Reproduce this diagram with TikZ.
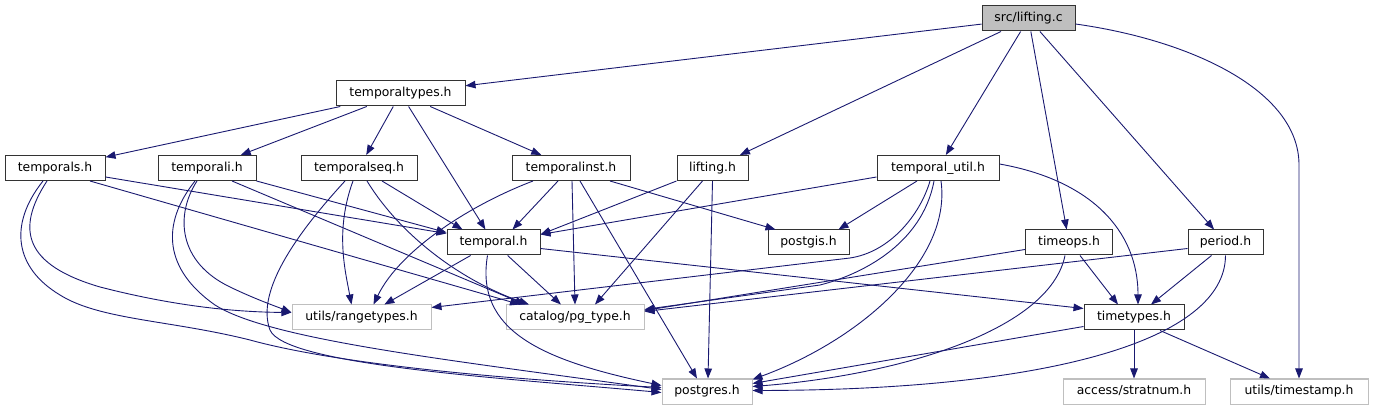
\documentclass[tikz,border=0pt]{standalone}
\usepackage{fontspec}
\setmainfont{DejaVu Sans}
\usetikzlibrary{arrows.meta}

\definecolor{edgeblue}{RGB}{25,25,112}
\definecolor{boxgray}{RGB}{191,191,191}

\begin{document}
\begin{tikzpicture}[x=1pt,y=-1pt,line width=1pt,
  hdr/.style={draw=black!80,fill=white,inner sep=0pt,minimum height=25pt,
    text height=9pt,text depth=2.5pt,font=\fontsize{12.4}{14}\selectfont},
  sysh/.style={hdr,draw=boxgray},
  srcf/.style={hdr,fill=boxgray},
  inc/.style={draw=edgeblue,line width=0.9pt,-{Triangle[length=10pt,width=7.5pt]}}]

\useasboundingbox (0,0) rectangle (1373,411);

% files
\node[srcf,minimum width=93pt] (lc) at (1028.5,18.5) {src/lifting.c};
\node[hdr,minimum width=129pt] (tt) at (400.5,93.5) {temporaltypes.h};
\node[hdr,minimum width=100pt] (tps) at (55,168) {temporals.h};
\node[hdr,minimum width=98pt] (tpi) at (207,168) {temporali.h};
\node[hdr,minimum width=116pt] (tseq) at (359,168) {temporalseq.h};
\node[hdr,minimum width=118pt] (tinst) at (571,168) {temporalinst.h};
\node[hdr,minimum width=71pt] (lh) at (712.5,168) {lifting.h};
\node[hdr,minimum width=122pt] (tu) at (938,168) {temporal\_util.h};
\node[hdr,minimum width=93pt] (tmp) at (493.5,242.5) {temporal.h};
\node[hdr,minimum width=81pt] (pgis) at (808.5,242.5) {postgis.h};
\node[hdr,minimum width=87pt] (tops) at (1069,242.5) {timeops.h};
\node[hdr,minimum width=75pt] (per) at (1225.5,242.5) {period.h};
\node[sysh,minimum width=139pt] (rng) at (361.5,317.5) {utils/rangetypes.h};
\node[sysh,minimum width=138pt] (pgt) at (575,317.5) {catalog/pg\_type.h};
\node[hdr,minimum width=100pt] (ttyp) at (1134,317.5) {timetypes.h};
\node[sysh,minimum width=90pt] (pgs) at (707,391.5) {postgres.h};
\node[sysh,minimum width=142pt] (strat) at (1134,391.5) {access/stratnum.h};
\node[sysh,minimum width=138pt] (tst) at (1299,391.5) {utils/timestamp.h};

% src/lifting.c
\draw[inc] (lc) -- (tt);
\draw[inc] (lc) -- (lh);
\draw[inc] (lc) -- (tu);
\draw[inc] (lc) -- (tops);
\draw[inc] (lc) -- (per);
\draw[inc] ([yshift=-5.5pt]lc.east) .. controls (1190,40) and (1299,90) .. (1299,165) -- (tst.north);

% temporaltypes.h
\draw[inc] (tt) -- (tps);
\draw[inc] (tt) -- (tpi);
\draw[inc] (tt) -- (tseq);
\draw[inc] (tt) -- (tmp);
\draw[inc] (tt) -- (tinst);

% temporals.h
\draw[inc] ([yshift=-9pt]tps.east) -- ([yshift=9pt]tmp.west);
\draw[inc] ([xshift=35pt]tps.south) -- ([xshift=-55pt]pgt.north);
\draw[inc] ([xshift=-8pt]tps.south) .. controls (15,230) and (25,265) .. (100,287) .. controls (170,305) and (230,312) .. ([yshift=5pt]rng.west);
\draw[inc] ([xshift=-12pt]tps.south) .. controls (8,225) and (15,268) .. (60,295) .. controls (100,320) and (170,320) .. (250,340) .. controls (330,362) and (480,378) .. ([yshift=4pt]pgs.west);

% temporali.h
\draw[inc] (tpi.south east) -- ([yshift=10pt]tmp.west);
\draw[inc] ([xshift=25pt]tpi.south) -- ([xshift=-50pt]pgt.north);
\draw[inc] ([xshift=-10pt]tpi.south) .. controls (175,215) and (178,262) .. (230,287) .. controls (255,299) and (275,306) .. ([yshift=5pt]rng.west);
\draw[inc] ([xshift=-12pt]tpi.south) .. controls (160,225) and (165,270) .. (215,305) .. controls (270,340) and (450,360) .. ([yshift=2pt]pgs.west);

% temporalseq.h
\draw[inc] ([xshift=23pt]tseq.south) -- ([xshift=-31pt]tmp.north);
\draw[inc] ([xshift=8pt]tseq.south) .. controls (400,235) and (460,280) .. ([xshift=-46pt]pgt.north);
\draw[inc] ([xshift=-6pt]tseq.south) .. controls (335,230) and (345,270) .. ([xshift=-10pt]rng.north);
\draw[inc] ([xshift=-14pt]tseq.south) .. controls (300,230) and (255,290) .. (270,330) .. controls (285,365) and (500,378) .. ([yshift=-1pt]pgs.west);

% temporalinst.h
\draw[inc] ([xshift=-38pt]tinst.south) .. controls (470,205) and (400,250) .. ([xshift=12pt]rng.north);
\draw[inc] ([xshift=-13pt]tinst.south) -- ([xshift=19pt]tmp.north);
\draw[inc] ([xshift=1pt]tinst.south) -- (pgt.north);
\draw[inc] ([xshift=9pt]tinst.south) -- ([xshift=-10pt]pgs.north);
\draw[inc] ([xshift=39pt]tinst.south) -- ([xshift=-33pt]pgis.north);

% lifting.h
\draw[inc] (lh.south west) -- ([yshift=8pt]tmp.east);
\draw[inc] ([xshift=-10pt]lh.south) -- ([xshift=20pt]pgt.north);
\draw[inc] (lh.south) -- ([xshift=1pt]pgs.north);

% temporal_util.h
\draw[inc] ([yshift=-9pt]tu.west) -- ([yshift=8pt]tmp.east);
\draw[inc] ([xshift=-21pt]tu.south) -- ([xshift=30pt]pgis.north);
\draw[inc] ([xshift=-8pt]tu.south) .. controls (920,215) and (890,252) .. (850,258) -- ([yshift=10pt]rng.east);
\draw[inc] ([xshift=-4pt]tu.south) .. controls (922,245) and (860,275) .. (820,285) -- ([yshift=8pt]pgt.east);
\draw[inc] ([xshift=3pt]tu.south) .. controls (952,260) and (860,340) .. ([yshift=12pt]pgs.east);
\draw[inc] ([yshift=4pt]tu.east) .. controls (1090,180) and (1138,230) .. ([xshift=4pt]ttyp.north);

% temporal.h
\draw[inc] (tmp) -- (rng);
\draw[inc] (tmp) -- (pgt);
\draw[inc] ([xshift=-6pt]tmp.south) .. controls (475,330) and (540,360) .. ([yshift=6pt]pgs.west);
\draw[inc] ([yshift=-6pt]tmp.east) -- ([yshift=9pt]ttyp.west);

% timeops.h
\draw[inc] ([yshift=-7pt]tops.west) -- ([yshift=7pt]pgt.east);
\draw[inc] ([xshift=11pt]tops.south) -- ([xshift=-16pt]ttyp.north);
\draw[inc] ([xshift=-4pt]tops.south) .. controls (1050,330) and (900,375) .. ([yshift=5pt]pgs.east);

% period.h
\draw[inc] ([yshift=-6pt]per.west) -- ([yshift=6pt]pgt.east);
\draw[inc] ([xshift=-14pt]per.south) -- ([xshift=17pt]ttyp.north);
\draw[inc] (per.south) .. controls (1225,340) and (1050,390) .. ([yshift=1pt]pgs.east);

% timetypes.h
\draw[inc] ([yshift=-9pt]ttyp.west) -- ([yshift=8pt]pgs.east);
\draw[inc] (ttyp) -- (strat);
\draw[inc] ([xshift=26pt]ttyp.south) -- ([xshift=-29pt]tst.north);

\end{tikzpicture}
\end{document}
